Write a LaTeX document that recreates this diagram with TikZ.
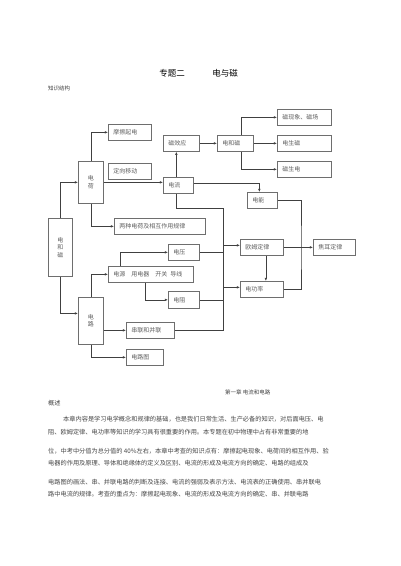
\documentclass[tikz,border=0pt]{standalone}
\usepackage{fontspec}
\setmainfont{Noto Sans CJK SC}
\XeTeXlinebreaklocale "zh"
\XeTeXlinebreakskip=0pt plus 2pt
\usepackage{tikz}
\usetikzlibrary{arrows.meta,positioning}
\definecolor{BoxLine}{RGB}{110,110,110}
\definecolor{BoxText}{RGB}{95,95,95}
\definecolor{BodyText}{RGB}{70,70,70}

\begin{document}
\begin{tikzpicture}[
      x=1pt,y=-1pt,
      bxNode/.style={draw=BoxLine,fill=white,line width=0.7pt,anchor=north west,
                     minimum height=16pt,inner xsep=5pt,inner ysep=0pt,align=left,
                     font=\fontsize{6}{7.5}\selectfont,text=BoxText},
      vNode/.style={bxNode,align=center,inner xsep=2pt},
      tx/.style={anchor=west,inner sep=0pt,font=\fontsize{6.2}{7}\selectfont,text=BodyText},
      ar/.style={-{Latex[length=3.2pt,width=2.6pt]},line width=0.6pt,color=black!75},
      ln/.style={line width=0.6pt,color=black!75}
    ]
    \useasboundingbox[fill=white] (0,0) rectangle (400,566);

    % Heading
    \node(ttl1)[font=\fontsize{8.5}{9}\selectfont] at (172,73) {专题二};
    \node(ttl2)[font=\fontsize{8.5}{9}\selectfont] at (225,73) {电与磁};
    \node(zsjg)[tx,font=\fontsize{5.5}{6}\selectfont] at (48,88) {知识结构};

    % Left column
    \node(dhcl)[vNode,text width=20pt,minimum height=58pt] at (48,218) {电\\和\\磁};
    \node(dianhe)[vNode,text width=21pt,minimum height=42pt] at (78,161) {电\\荷};
    \node(dianlu)[vNode,text width=21pt,minimum height=47pt] at (78,297) {电\\路};

    % Charge branch
    \node(mcqd)[bxNode,text width=33pt] at (108,124) {摩擦起电};
    \node(dxyd)[bxNode,text width=33pt] at (108,163) {定向移动};
    \node(lzdh)[bxNode,text width=81pt] at (114,218) {两种电荷及相互作用规律};

    % Current and magnetism
    \node(dianliu)[bxNode,text width=20pt] at (163,177) {电流};
    \node(cxy)[bxNode,text width=26pt] at (163,135) {磁效应};
    \node(dhct)[bxNode,text width=26pt] at (217,135) {电和磁};
    \node(cxx)[bxNode,text width=44pt] at (277,109) {磁现象、磁场};
    \node(dsc)[bxNode,text width=44pt] at (277,135) {电生磁};
    \node(csd)[bxNode,text width=44pt] at (277,161) {磁生电};
    \node(dianneng)[bxNode,text width=20pt] at (247,192) {电能};

    % Circuit branch
    \node(dianya)[bxNode,text width=21pt] at (168,244) {电压};
    \node(dianyuan)[bxNode,text width=75pt] at (108,266) {电源\quad 用电器\quad 开关\enspace 导线};
    \node(dianzu)[bxNode,text width=21pt,minimum height=17pt] at (168,291) {电阻};
    \node(chuanlian)[bxNode,text width=38pt] at (126,322) {串联和并联};
    \node(dlt)[bxNode,text width=27pt] at (126,349) {电路图};

    % Laws
    \node(oumu)[bxNode,text width=33pt] at (240,239) {欧姆定律};
    \node(jiaoer)[bxNode,text width=32pt] at (313,239) {焦耳定律};
    \node(dgl)[bxNode,text width=33pt] at (240,281) {电功率};

    \coordinate(bt) at (223,208);
    \coordinate(rv) at (301,250);

    % Connectors from the left column
    \draw[ar] (dhcl.north) |- (dianhe.west);
    \draw[ar] (dhcl.south) |- (dianlu.150);
    \draw[ar] (dianhe.north) |- (mcqd.west);
    \draw[ar] (dianhe.east) -- (dianhe.east -| dianliu.west);
    \draw[ar] (dianhe.south) |- (lzdh.west);
    \draw[ar] (dianlu.north) |- (dianyuan.west);
    \draw[ar] (dianlu.east |- chuanlian.west) -- (chuanlian.west);
    \draw[ar] (dianlu.south) |- (dlt.west);

    % Circuit elements
    \draw[ar] ([xshift=12pt]dianyuan.north west) |- (dianya.west);
    \draw[ar] ([xshift=37pt]dianyuan.south west) |- (dianzu.west);
    \draw[ln] ([xshift=-2pt]dianliu.south) |- (bt) |- (chuanlian.east);
    \draw[ln] (dianya.east) -- (dianya.east -| bt);
    \draw[ln] (dianzu.east) -- (dianzu.east -| bt);
    \draw[ar] ([yshift=2pt]oumu.west -| bt) -- ([yshift=2pt]oumu.west);
    \draw[ar] ([yshift=2pt]dgl.west -| bt) -- ([yshift=2pt]dgl.west);

    % Current and magnetism
    \draw[ar] ([xshift=-2pt]dianliu.north) -- ([xshift=-2pt]dianliu.north |- cxy.south);
    \draw[ar] (cxy) -- (dhct);
    \draw[ar] ([xshift=6pt]dhct.north) |- (cxx.west);
    \draw[ar] (dhct) -- (dsc);
    \draw[ar] ([xshift=6pt]dhct.south) |- (csd.west);
    \draw[ar] ([yshift=2pt]dianliu.east) -| ([xshift=-3pt]dianneng.north);

    % Laws
    \draw[ln] (dianneng.east) -| (rv) |- (dgl.east);
    \draw[ar] (oumu) -- (jiaoer);
    \draw[ar] ([xshift=4pt]oumu.south) -- ([xshift=4pt]dgl.north);

    % Text below
    \node(ch1)[tx,font=\fontsize{5.5}{6}\selectfont] at (225,392) {第一章 电流和电路};
    \node(gs)[tx] at (48,403) {概述};
    \node(p1)[tx] at (63,419) {\makebox[254pt][s]{本章内容是学习电学概念和规律的基础，也是我们日常生活、生产必备的知识，对后面电压、电}};
    \node(p2)[tx] at (48,432) {\makebox[282pt][s]{阻、欧姆定律、电功率等知识的学习具有很重要的作用。本专题在初中物理中占有非常重要的地}};
    \node(p3)[tx] at (48,451) {位，中考中分值为总分值的 40\%左右，本章中考查的知识点有：摩擦起电现象、电荷间的相互作用、验};
    \node(p4)[tx] at (48,463) {\makebox[264pt][s]{电器的作用及原理、导体和绝缘体的定义及区别、电流的形成及电流方向的确定、电路的组成及}};
    \node(p5)[tx] at (48,482) {电路图的画法、串、并联电路的判断及连接、电流的强弱及表示方法、电流表的正确使用、串并联电};
    \node(p6)[tx] at (48,494) {路中电流的规律。考查的重点为：摩擦起电现象、电流的形成及电流方向的确定、串、并联电路};
  \end{tikzpicture}
\end{document}
